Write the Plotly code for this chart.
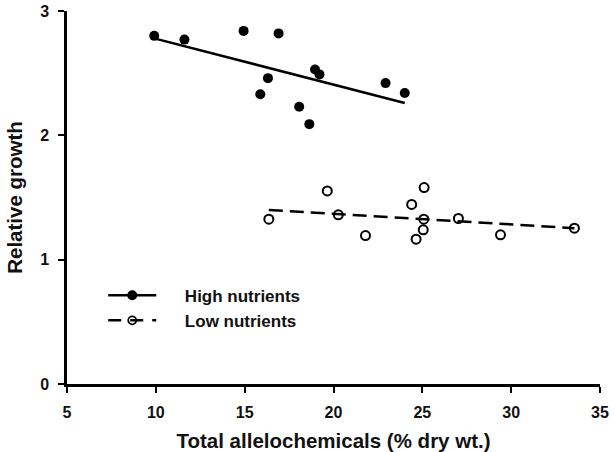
import plotly.graph_objects as go

# High nutrients (filled circles)
high_x = [9.91, 11.61, 14.94, 16.91, 18.96, 19.21, 16.31, 15.88, 18.07, 18.64, 22.93, 24.01]
high_y = [2.80, 2.77, 2.84, 2.82, 2.53, 2.49, 2.46, 2.33, 2.23, 2.09, 2.42, 2.34]
high_fit_x = [9.91, 24.01]
high_fit_y = [2.78, 2.26]

# Low nutrients (open circles)
low_x = [16.36, 19.65, 20.27, 21.80, 24.40, 25.10, 25.08, 25.05, 24.65, 27.03, 29.40, 33.56]
low_y = [1.326, 1.553, 1.361, 1.194, 1.444, 1.580, 1.326, 1.240, 1.165, 1.331, 1.200, 1.253]
low_fit_x = [16.36, 33.56]
low_fit_y = [1.40, 1.253]

x_ticks = [5, 10, 15, 20, 25, 30, 35]
y_ticks = [0, 1, 2, 3]
series_names = ["High nutrients", "Low nutrients"]

FONT = "Liberation Sans, Arial, sans-serif"
PAD = "\u00a0" * 5  # visual gap between legend symbol and label

fig = go.Figure()

# regression lines (no legend)
fig.add_trace(go.Scatter(x=high_fit_x, y=high_fit_y, mode="lines",
                         line=dict(color="black", width=2.5), showlegend=False,
                         hoverinfo="skip"))
fig.add_trace(go.Scatter(x=low_fit_x, y=low_fit_y, mode="lines",
                         line=dict(color="black", width=2.5, dash="14px,7px"),
                         showlegend=False, hoverinfo="skip"))

# points
fig.add_trace(go.Scatter(x=high_x, y=high_y, mode="markers", name=series_names[0],
                         marker=dict(symbol="circle", size=10, color="black"),
                         showlegend=False))
fig.add_trace(go.Scatter(x=low_x, y=low_y, mode="markers", name=series_names[1],
                         marker=dict(symbol="circle-open", size=9, color="black",
                                     line=dict(width=2, color="black")),
                         showlegend=False))

# legend-only entries
fig.add_trace(go.Scatter(x=[None], y=[None], mode="lines+markers", name=PAD + series_names[0],
                         line=dict(color="black", width=2.5),
                         marker=dict(symbol="circle", size=10, color="black")))
fig.add_trace(go.Scatter(x=[None], y=[None], mode="lines+markers", name=PAD + series_names[1],
                         line=dict(color="black", width=2.5, dash="13px,9px"),
                         marker=dict(symbol="circle-open", size=8, color="black",
                                     line=dict(width=1.8, color="black"))))

fig.update_layout(
    width=614, height=452,
    margin=dict(l=67, r=14, t=11, b=68, autoexpand=False),
    paper_bgcolor="white", plot_bgcolor="white",
    font=dict(family=FONT, color="black"),
    showlegend=True,
    legend=dict(x=0.068, y=0.285, xanchor="left", yanchor="top",
                bgcolor="rgba(0,0,0,0)", itemwidth=48,
                font=dict(family=FONT, size=17, weight="bold", color="#111")),
    xaxis=dict(range=[5, 35], tickvals=x_ticks, ticktext=[str(v) for v in x_ticks],
               automargin=False,
               showgrid=False, zeroline=False, showline=True, linecolor="black",
               linewidth=2.5, ticks="outside", ticklen=6, tickwidth=2, tickcolor="black",
               ticklabelstandoff=6,
               tickfont=dict(family=FONT, size=16, weight="bold", color="#111"),
               title=dict(text="Total allelochemicals (% dry wt.)", standoff=14,
                          font=dict(family=FONT, size=20.5, weight="bold", color="#111"))),
    yaxis=dict(range=[0, 3], tickvals=y_ticks, ticktext=[str(v) for v in y_ticks],
               automargin=False,
               showgrid=False, zeroline=False, showline=True, linecolor="black",
               linewidth=2.5, ticks="outside", ticklen=6, tickwidth=2, tickcolor="black",
               ticklabelstandoff=6,
               tickfont=dict(family=FONT, size=16, weight="bold", color="#111"),
               title=dict(text="Relative growth", standoff=12,
                          font=dict(family=FONT, size=20.5, weight="bold", color="#111"))),
)

fig.write_html("out.html")
